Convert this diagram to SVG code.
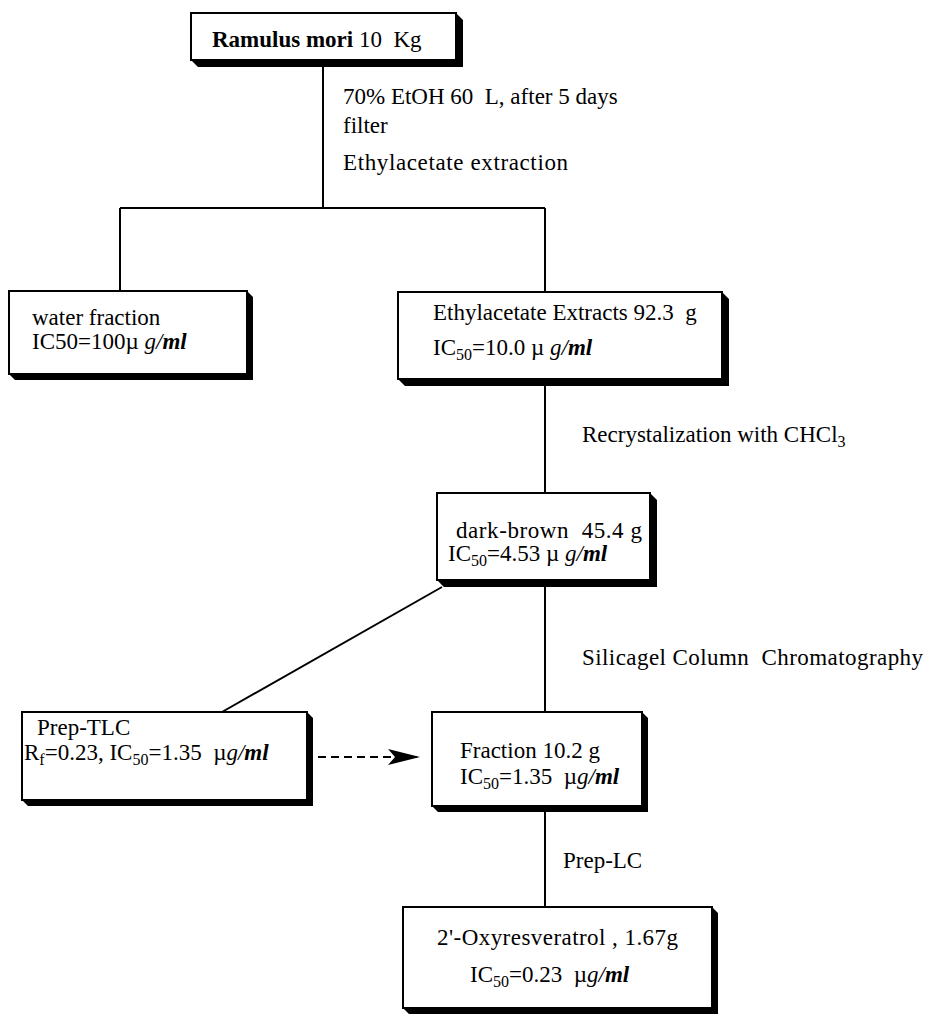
<svg xmlns="http://www.w3.org/2000/svg" width="933" height="1014" viewBox="0 0 933 1014">
<defs>
<style>
text{font-family:"Liberation Serif","Times New Roman",serif;font-size:23px;fill:#000}
.box{fill:#fff;stroke:#000;stroke-width:2}
.sh{fill:#000}
.ln{stroke:#000;stroke-width:2;fill:none}
.sub{font-size:16px}
.it{font-style:italic}
.bi{font-style:italic;font-weight:bold}
</style>
<marker id="ah" markerWidth="34" markerHeight="16" refX="32" refY="8" orient="auto" markerUnits="userSpaceOnUse">
<path d="M0,0 L32,8 L0,16 L7,8 Z" fill="#000"/>
</marker>
</defs>
<g id="connectors">
<line class="ln" x1="323" y1="60" x2="323" y2="208"/>
<line class="ln" x1="120" y1="208" x2="545" y2="208"/>
<line class="ln" x1="120" y1="208" x2="120" y2="291"/>
<line class="ln" x1="545" y1="208" x2="545" y2="292"/>
<line class="ln" x1="545" y1="386" x2="545" y2="493"/>
<line class="ln" x1="545" y1="587" x2="545" y2="712"/>
<line class="ln" x1="442" y1="587" x2="222" y2="712"/>
<line class="ln" x1="545" y1="812" x2="545" y2="907"/>
<line class="ln" x1="318" y1="757" x2="420" y2="757" stroke-dasharray="8,5" marker-end="url(#ah)"/>
<text x="343" y="104" xml:space="preserve">70% EtOH 60  L, after 5 days</text>
<text x="343" y="133">filter</text>
<text x="343" y="170" textLength="225">Ethylacetate extraction</text>
<text x="582" y="442">Recrystalization with CHCl<tspan class="sub" dy="5">3</tspan></text>
<text x="582" y="665" xml:space="preserve" textLength="341">Silicagel Column  Chromatography</text>
<text x="563" y="868">Prep-LC</text>
</g>
<g id="n-ramulus">
<path class="sh" d="M456,13 L463,20 L463,67 L198,67 L191,60 L456,60 Z"/>
<rect class="box" x="191" y="13" width="265" height="47"/>
<text x="212" y="47" xml:space="preserve"><tspan font-weight="bold">Ramulus mori</tspan> 10  Kg</text>
</g>
<g id="n-water">
<path class="sh" d="M247,291 L253,297 L253,380 L15,380 L9,374 L247,374 Z"/>
<rect class="box" x="9" y="291" width="238" height="83"/>
<text x="32" y="325">water fraction</text>
<text x="32" y="349">IC50=100µ <tspan class="it">g/</tspan><tspan class="bi">ml</tspan></text>
</g>
<g id="n-ethyl">
<path class="sh" d="M722,292 L729,299 L729,386 L405,386 L398,379 L722,379 Z"/>
<rect class="box" x="398" y="292" width="324" height="87"/>
<text x="433" y="320" xml:space="preserve">Ethylacetate Extracts 92.3  g</text>
<text x="433" y="355" xml:space="preserve">IC<tspan class="sub" dy="5">50</tspan><tspan dy="-5">=10.0 µ </tspan><tspan class="it">g/</tspan><tspan class="bi">ml</tspan></text>
</g>
<g id="n-darkbrown">
<path class="sh" d="M650,493 L657,500 L657,587 L444,587 L437,580 L650,580 Z"/>
<rect class="box" x="437" y="493" width="213" height="87"/>
<text x="456" y="538" xml:space="preserve" font-size="22" textLength="186">dark-brown  45.4 g</text>
<text x="448" y="561" xml:space="preserve" font-size="22">IC<tspan class="sub" dy="5">50</tspan><tspan dy="-5">=4.53 µ </tspan><tspan class="it">g/</tspan><tspan class="bi">ml</tspan></text>
</g>
<g id="n-preptlc">
<path class="sh" d="M307,712 L313,718 L313,806 L28,806 L22,800 L307,800 Z"/>
<rect class="box" x="22" y="712" width="285" height="88"/>
<text x="37" y="735">Prep-TLC</text>
<text x="24" y="760" xml:space="preserve">R<tspan class="sub" dy="5">f</tspan><tspan dy="-5">=0.23, IC</tspan><tspan class="sub" dy="5">50</tspan><tspan dy="-5">=1.35  µ</tspan><tspan class="it">g/</tspan><tspan class="bi">ml</tspan></text>
</g>
<g id="n-fraction">
<path class="sh" d="M642,712 L648,718 L648,812 L438,812 L432,806 L642,806 Z"/>
<rect class="box" x="432" y="712" width="210" height="94"/>
<text x="460" y="758">Fraction 10.2 g</text>
<text x="460" y="784" xml:space="preserve">IC<tspan class="sub" dy="5">50</tspan><tspan dy="-5">=1.35  µ</tspan><tspan class="it">g/</tspan><tspan class="bi">ml</tspan></text>
</g>
<g id="n-oxy">
<path class="sh" d="M712,907 L718,913 L718,1014 L409,1014 L403,1008 L712,1008 Z"/>
<rect class="box" x="403" y="907" width="309" height="101"/>
<text x="437" y="945" textLength="241">2'-Oxyresveratrol , 1.67g</text>
<text x="470" y="982" xml:space="preserve">IC<tspan class="sub" dy="5">50</tspan><tspan dy="-5">=0.23  µ</tspan><tspan class="it">g/</tspan><tspan class="bi">ml</tspan></text>
</g>
</svg>
